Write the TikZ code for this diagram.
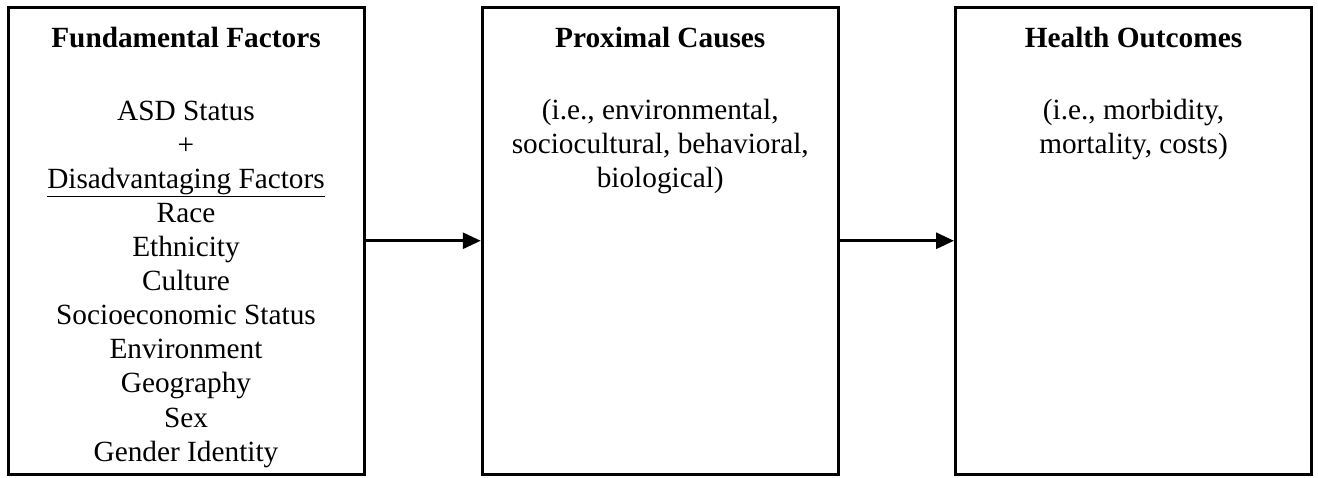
\documentclass[tikz,border=0pt]{standalone}
\usepackage{fontspec}
\setmainfont{Liberation Serif}
\usepackage{tikz}
\usetikzlibrary{arrows.meta,positioning}

\newcommand{\diagfont}{\fontsize{29.3}{34.1}\selectfont}

\tikzset{
  stagebox/.style={draw, line width=3pt, minimum width=356pt, minimum height=466.5pt, inner sep=0pt},
  boxhead/.style={font=\diagfont\bfseries, inner sep=0pt},
  boxbody/.style={font=\diagfont, align=center, inner sep=0pt},
  flow/.style={line width=3pt, -{Triangle[length=18pt,width=16pt]}},
}

\begin{document}
\begin{tikzpicture}[x=1pt,y=-1pt]
  \useasboundingbox (0,0) rectangle (1318,477);
  % the three stages
  \node[stagebox] (fund) at (186,240.75) {};
  \node[stagebox] (prox) at (660.25,240.75) {};
  \node[stagebox] (outc) at (1133.5,240.75) {};
  % headings
  \node[boxhead, below=20.5pt of fund.north] (fundhead) {Fundamental Factors};
  \node[boxhead, below=20.5pt of prox.north] (proxhead) {Proximal Causes};
  \node[boxhead, below=20.5pt of outc.north] (outchead) {Health Outcomes};
  % contents
  \node[boxbody, below=53pt of fundhead] (fundbody) {ASD Status\\ +\\ \underline{Disadvantaging Factors}\\ Race\\ Ethnicity\\ Culture\\ Socioeconomic Status\\ Environment\\ Geography\\ Sex\\ Gender Identity};
  \node[boxbody, below=51pt of proxhead] (proxbody) {(i.e., environmental,\\ sociocultural, behavioral,\\ biological)};
  \node[boxbody, below=51pt of outchead] (outcbody) {(i.e., morbidity,\\ mortality, costs)};
  % flow between stages
  \draw[flow] (fund.east) -- (prox.west);
  \draw[flow] (prox.east) -- (outc.west);
\end{tikzpicture}
\end{document}
